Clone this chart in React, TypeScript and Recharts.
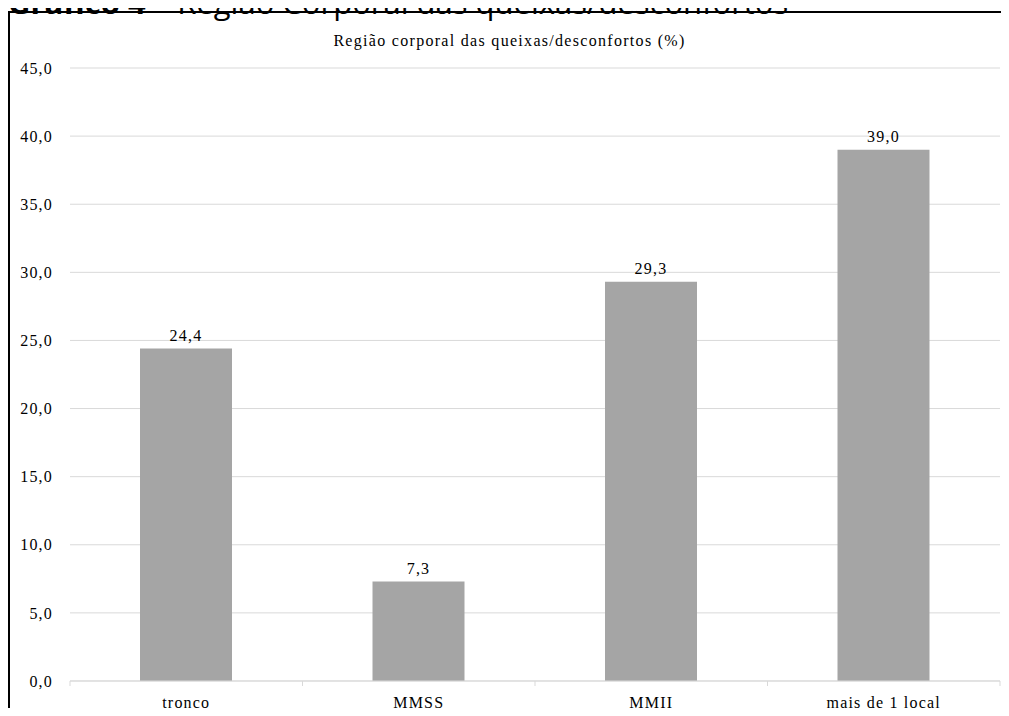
import { BarChart, Bar, XAxis, YAxis, CartesianGrid, LabelList } from 'recharts';

const regions = ['tronco', 'MMSS', 'MMII', 'mais de 1 local'];
const percents = [24.4, 7.3, 29.3, 39.0];
const yTicks = [0, 5, 10, 15, 20, 25, 30, 35, 40, 45];

const data = regions.map((r, i) => ({ name: r, value: percents[i] }));

const fmt = (v: number) => v.toFixed(1).replace('.', ',');
const serif = '"Liberation Serif", "Times New Roman", serif';
const labelStyle = { fill: '#000', fontSize: 16, fontFamily: serif, letterSpacing: 1.2 };

// category labels plus the small boundary ticks Excel draws between categories
const CategoryTick = (props: any) => {
  const { x, y, payload, index, visibleTicksCount } = props;
  const half = payload?.offset ?? 0;
  const last = index === visibleTicksCount - 1;
  return (
    <g>
      <line x1={x - half} x2={x - half} y1={y} y2={y + 5} stroke="#d9d9d9" />
      {last && <line x1={x + half} x2={x + half} y1={y} y2={y + 5} stroke="#d9d9d9" />}
      <text x={x} y={y + 27} textAnchor="middle" style={labelStyle}>
        {payload.value}
      </text>
    </g>
  );
};

export default function App() {
  return (
    <div style={{ position: 'relative', width: 1001, height: 708, marginTop: -8 }}>
      <div
        style={{
          position: 'absolute',
          top: -13,
          left: 0,
          whiteSpace: 'nowrap',
          fontFamily: '"Open Sans", "Noto Sans", sans-serif',
          fontSize: 31,
          lineHeight: '31px',
          color: '#000',
        }}
      >
        <b>Gráfico 4</b> – Região Corporal das queixas/desconfortos
      </div>
      <div
        style={{
          position: 'absolute',
          top: 11,
          left: 0,
          width: 1001,
          height: 705,
          borderTop: '2px solid #000',
          borderLeft: '2px solid #000',
          boxSizing: 'border-box',
        }}
      >
        <div
          style={{
            position: 'absolute',
            top: 19,
            left: 0,
            width: 999,
            textAlign: 'center',
            fontFamily: serif,
            fontSize: 16,
            letterSpacing: 1.3,
            color: '#000',
          }}
        >
          Região corporal das queixas/desconfortos (%)
        </div>
        <BarChart width={999} height={703} data={data} margin={{ top: 55, right: 9, left: 0, bottom: 0 }}>
          <CartesianGrid vertical={false} stroke="#d9d9d9" />
          <XAxis
            dataKey="name"
            height={35}
            stroke="#d9d9d9"
            tickLine={false}
            tickSize={0}
            tickMargin={0}
            tick={<CategoryTick />}
            interval={0}
          />
          <YAxis
            width={60}
            domain={[0, 45]}
            ticks={yTicks}
            tickFormatter={fmt}
            axisLine={false}
            tickLine={false}
            tickMargin={11}
            tick={{ style: labelStyle }}
          />
          <Bar dataKey="value" fill="#a5a5a5" barSize={92} isAnimationActive={false}>
            <LabelList
              dataKey="value"
              position="top"
              offset={8}
              formatter={(v: any) => fmt(Number(v))}
              style={labelStyle}
            />
          </Bar>
        </BarChart>
      </div>
    </div>
  );
}
